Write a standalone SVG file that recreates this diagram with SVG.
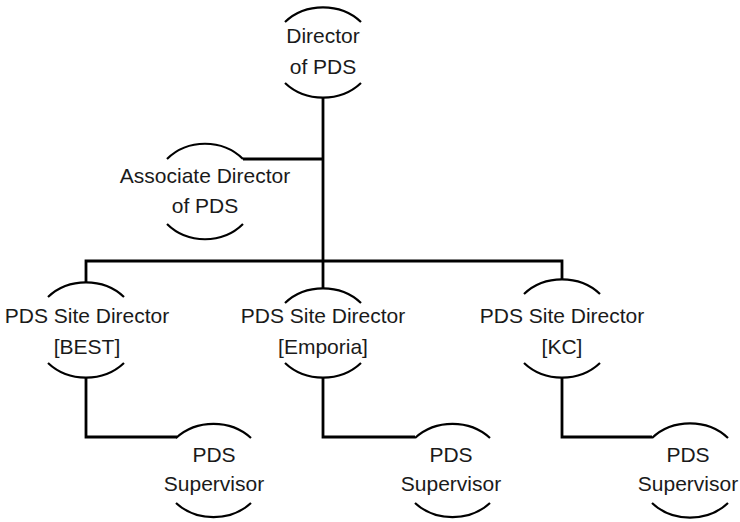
<svg xmlns="http://www.w3.org/2000/svg" width="740" height="522" viewBox="0 0 740 522">
<style>
.arc{fill:none;stroke:#000;stroke-width:2.2}
.ln{fill:none;stroke:#000;stroke-width:2.8}
text{font-family:"Liberation Sans",Arial,sans-serif;font-size:21px;fill:#1a1a1a;text-anchor:middle}
</style>
<rect width="740" height="522" fill="#fff"/>
<g id="connectors">
<path class="ln" d="M323 97 V261"/>
<path class="ln" d="M243 159 H324"/>
<path class="ln" d="M86 282 V261 H562 V279"/>
<path class="ln" d="M323 261 V288"/>
<path class="ln" d="M86 378 V437 H177"/>
<path class="ln" d="M323 378 V437 H415"/>
<path class="ln" d="M562 378 V437 H652"/>
</g>
<g id="director">
<path class="arc" d="M285 22 A52 46 0 0 1 361 22"/>
<path class="arc" d="M285 83 A52 46 0 0 0 361 83"/>
<text x="323" y="43">Director</text>
<text x="323" y="74">of PDS</text>
</g>
<g id="associate">
<path class="arc" d="M167 159 A52 48 0 0 1 243 159"/>
<path class="arc" d="M167 224 A52 48 0 0 0 243 224"/>
<text x="205" y="183">Associate Director</text>
<text x="205" y="213">of PDS</text>
</g>
<g id="site-best">
<path class="arc" d="M48 297 A52 46 0 0 1 124 297"/>
<path class="arc" d="M48 363 A52 46 0 0 0 124 363"/>
<text x="87" y="323">PDS Site Director</text>
<text x="87" y="354">[BEST]</text>
</g>
<g id="site-emporia">
<path class="arc" d="M285 303 A52 46 0 0 1 361 303"/>
<path class="arc" d="M285 363 A52 46 0 0 0 361 363"/>
<text x="323" y="323">PDS Site Director</text>
<text x="323" y="354">[Emporia]</text>
</g>
<g id="site-kc">
<path class="arc" d="M524 294 A52 46 0 0 1 600 294"/>
<path class="arc" d="M524 363 A52 46 0 0 0 600 363"/>
<text x="562" y="323">PDS Site Director</text>
<text x="562" y="354">[KC]</text>
</g>
<g id="sup-best">
<path class="arc" d="M176 438 A52 46 0 0 1 251 438"/>
<path class="arc" d="M176 503 A52 46 0 0 0 251 503"/>
<text x="214" y="462">PDS</text>
<text x="214" y="491">Supervisor</text>
</g>
<g id="sup-emporia">
<path class="arc" d="M415 438 A52 46 0 0 1 490 438"/>
<path class="arc" d="M415 503 A52 46 0 0 0 490 503"/>
<text x="451" y="462">PDS</text>
<text x="451" y="491">Supervisor</text>
</g>
<g id="sup-kc">
<path class="arc" d="M652 438 A52 46 0 0 1 728 438"/>
<path class="arc" d="M652 503 A52 46 0 0 0 728 503"/>
<text x="688" y="462">PDS</text>
<text x="688" y="491">Supervisor</text>
</g>
</svg>
